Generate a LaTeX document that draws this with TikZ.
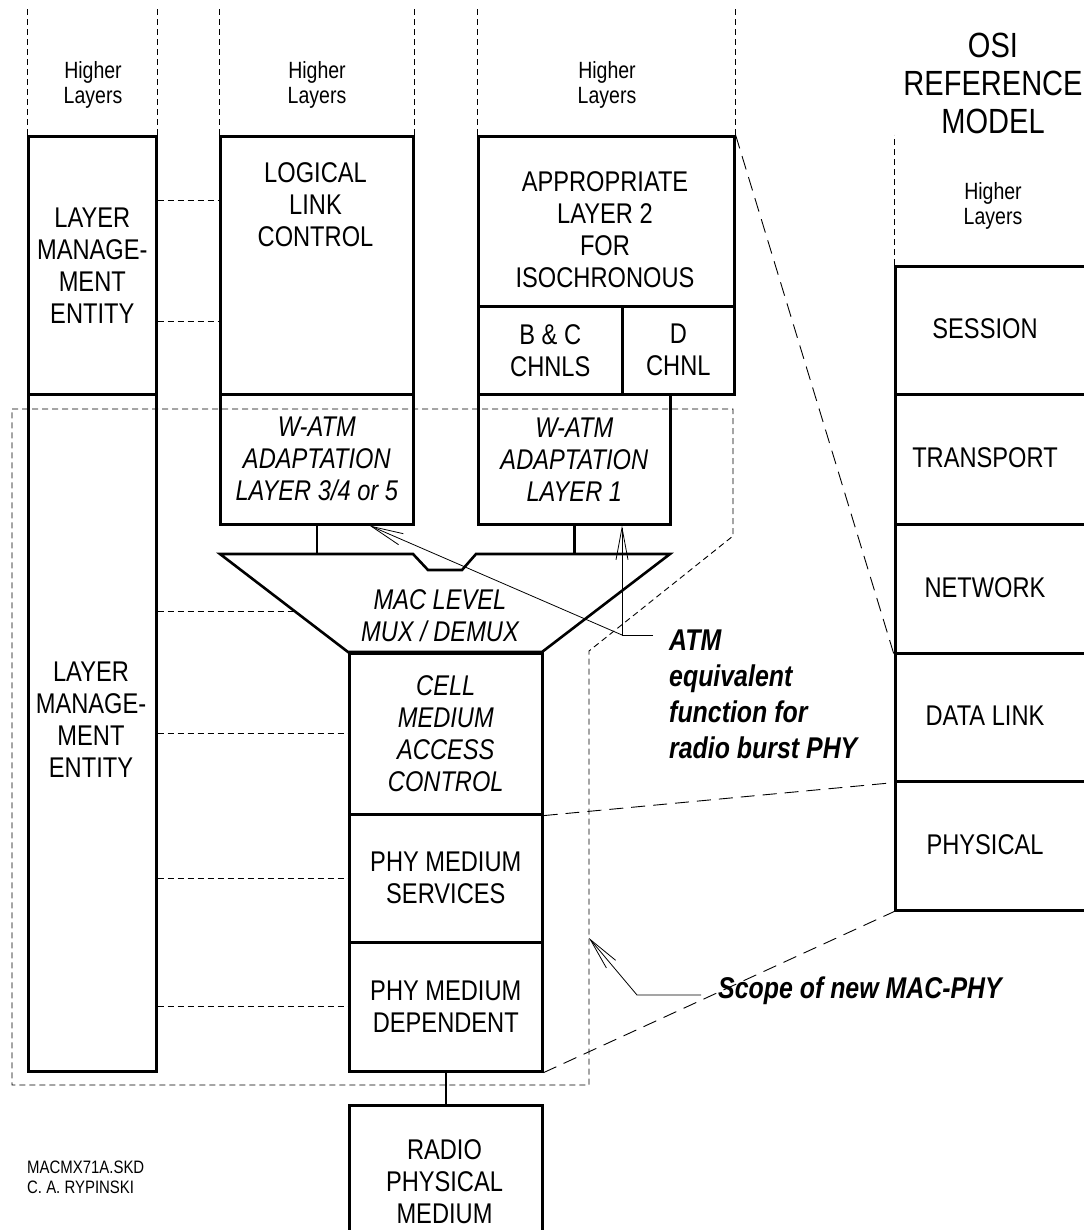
\documentclass[tikz,border=0pt]{standalone}
\usepackage{fontspec}
\setmainfont{Liberation Sans}[FakeStretch=0.83]
\usetikzlibrary{arrows.meta}

\newcommand{\bigtxt}{\fontsize{28.5}{32}\selectfont}
\newcommand{\bigit}{\fontsize{28.5}{32}\selectfont\itshape}
\newcommand{\hltxt}{\fontsize{23.5}{25}\selectfont}

\tikzset{
  layerbox/.style={draw,line width=2.6pt,inner sep=0pt,anchor=north west,align=center,font=\bigtxt},
  layertxt/.style={inner sep=0pt,align=center,font=\bigtxt},
  hltext/.style={inner sep=0pt,align=center,font=\hltxt},
  hidden/.style={dash pattern=on 6pt off 4pt,line width=0.9pt},
  projline/.style={dash pattern=on 14pt off 8pt,line width=0.9pt},
  link/.style={line width=2.6pt},
  pointer/.style={line width=0.8pt,-{Straight Barb[length=32pt,width=12pt]}},
  notetxt/.style={inner sep=0pt,align=left,anchor=west,font=\fontsize{30}{36}\selectfont\bfseries\itshape}
}

\begin{document}
\begin{tikzpicture}[x=1pt,y=-1pt]
\useasboundingbox (0,0) rectangle (1083,1230);

% layer management entity
\node[layerbox,minimum width=128pt,minimum height=258pt] (lmetop) at (27,135) {LAYER\\MANAGE-\\MENT\\ENTITY};
\node[layerbox,minimum width=128pt,minimum height=677pt] (lmebot) at (27,393) {};
\node[layertxt] (lmebot-txt) at (91,720) {LAYER\\MANAGE-\\MENT\\ENTITY};

% logical link control column
\node[layerbox,minimum width=193pt,minimum height=258pt] (llc) at (219,135) {};
\node[layertxt] (llc-txt) at (315.5,205) {LOGICAL\\LINK\\CONTROL};
\node[layerbox,font=\bigit,minimum width=193pt,minimum height=130pt] (aalfive) at (219,393) {W-ATM\\ADAPTATION\\LAYER 3/4 or 5};

% isochronous column
\node[layerbox,minimum width=256pt,minimum height=170pt] (approp) at (477,135) {};
\node[layertxt] (approp-txt) at (605,230) {APPROPRIATE\\LAYER 2\\FOR\\ISOCHRONOUS};
\node[layerbox,minimum width=144pt,minimum height=88pt] (bcchnl) at (477,305) {B \& C\\CHNLS};
\node[layerbox,minimum width=112pt,minimum height=88pt] (dchnl) at (621,305) {D\\CHNL};
\node[layerbox,font=\bigit,minimum width=192pt,minimum height=130pt] (aalone) at (477,393) {W-ATM\\ADAPTATION\\LAYER 1};

% higher layers
\node[hltext] (hl-lme) at (93,85) {Higher\\Layers};
\node[hltext] (hl-llc) at (317,85) {Higher\\Layers};
\node[hltext] (hl-iso) at (607,85) {Higher\\Layers};
\node[hltext] (hl-osi) at (993,206) {Higher\\Layers};
\draw[hidden] (lmetop.north west) -- ++(0,-127);
\draw[hidden] (lmetop.north east) -- ++(0,-127);
\draw[hidden] (llc.north west) -- ++(0,-127);
\draw[hidden] (llc.north east) -- ++(0,-127);
\draw[hidden] (approp.north west) -- ++(0,-127);
\draw[hidden] (approp.north east) -- ++(0,-127);

% mux / demux
\draw[link] (220,554) -- (413,554) -- (428,570) -- (462,570) -- (476,554) -- (670,554) -- (542,652) -- (348,652) -- cycle;
\node[layertxt,font=\bigit] (mux-txt) at (440,616) {MAC LEVEL\\MUX / DEMUX};
\coordinate (muxtop) at (0,554);
\coordinate (muxside) at (294,611);
\draw[link] (aalfive.south) -- (aalfive.south |- muxtop);
\draw[link] (aalone.south) -- (aalone.south |- muxtop);

% MAC and PHY stack
\node[layerbox,font=\bigit,minimum width=193pt,minimum height=161pt] (cellmac) at (348,652) {CELL\\MEDIUM\\ACCESS\\CONTROL};
\node[layerbox,minimum width=193pt,minimum height=128pt] (physvc) at (348,813) {PHY MEDIUM\\SERVICES};
\node[layerbox,minimum width=193pt,minimum height=129pt] (phydep) at (348,941) {PHY MEDIUM\\DEPENDENT};
\node[layerbox,minimum width=193pt,minimum height=135pt] (radio) at (348,1104) {};
\node[layertxt] (radio-txt) at (444.5,1182) {RADIO\\PHYSICAL\\MEDIUM};
\draw[link] (phydep.south) -- (radio.north);

% management links
\draw[hidden] ([yshift=-65pt]lmetop.north east) -- ([yshift=-65pt]llc.north west);
\draw[hidden] ([yshift=-186pt]lmetop.north east) -- ([yshift=-186pt]llc.north west);
\draw[hidden] (lmebot.east |- muxside) -- (muxside);
\draw[hidden] (lmebot.east |- cellmac.west) -- (cellmac.west);
\draw[hidden] (lmebot.east |- physvc.west) -- (physvc.west);
\draw[hidden] (lmebot.east |- phydep.west) -- (phydep.west);

% OSI reference model
\node[inner sep=0pt,align=center,font=\fontsize{35}{38}\selectfont] (osi-title) at (993,83) {OSI\\REFERENCE\\MODEL};
\foreach \name/\t/\b/\lab in {session/265/393/SESSION,transport/393/523/TRANSPORT,network/523/652/NETWORK,datalink/652/780/DATA LINK,physical/780/909/PHYSICAL}{
  \node[layerbox,minimum width=206pt,minimum height=\b pt-\t pt] (\name) at (894,\t) {};
  \node[layertxt] (\name-txt) at (985,{(\t+\b)/2}) {\lab};
}
\draw[hidden] (session.north west) -- ++(0,-130);

% projection to OSI
\draw[projline] (approp.north east) -- (network.south west);
\draw[projline] (cellmac.south east) -- (datalink.south west);
\draw[projline] (phydep.south east) -- (physical.south west);

% scope of new MAC-PHY
\draw[hidden] (12,409) -- (733,409) -- (733,536) -- (589,651) -- (589,1085) -- (12,1085) -- cycle;

% notes
\node[notetxt] (atm-txt) at (669,694) {ATM\\equivalent\\function for\\radio burst PHY};
\coordinate (atmend) at (653,635);
\coordinate (atmfork) at (622,635);
\draw[line width=0.8pt] (atmend) -- (atmfork);
\draw[pointer] (atmfork) -- (aalone.south -| atmfork);
\draw[pointer] (atmfork) -- ([xshift=-45pt]aalfive.south east);

\node[notetxt] (scope-txt) at (718,991) {Scope of new MAC-PHY};
\coordinate (scopeend) at (701,995);
\coordinate (scopebend) at (637,995);
\coordinate (scopetip) at (589,938);
\draw[pointer] (scopeend) -- (scopebend) -- (scopetip);

\node[inner sep=0pt,align=left,anchor=west,font=\fontsize{18}{20}\selectfont] (sketch-id) at (27,1177) {MACMX71A.SKD\\C. A. RYPINSKI};
\end{tikzpicture}
\end{document}
